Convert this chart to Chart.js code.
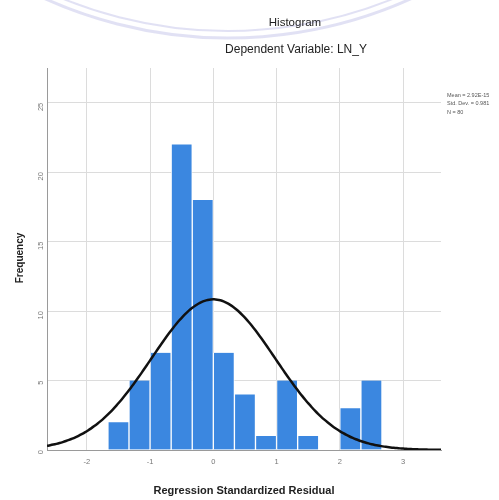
<!DOCTYPE html>
<html>
<head>
<meta charset="utf-8">
<script src="https://cdn.jsdelivr.net/npm/chart.js@4.4.1/dist/chart.umd.min.js"></script>
<style>
html,body{margin:0;padding:0;background:#fff;}
#wrap{width:499px;height:500px;position:relative;}
</style>
</head>
<body>
<div id="wrap"><canvas id="c" width="499" height="500"></canvas></div>
<script>
// Histogram data (bin centres and frequencies)
const binCenters = [-1.5, -1.1667, -0.8333, -0.5, -0.1667, 0.1667, 0.5, 0.8333, 1.1667, 1.5, 1.8333, 2.1667, 2.5];
const frequencies = [2, 5, 7, 22, 18, 7, 4, 1, 5, 1, 0, 3, 5];
const xTicks = [-2, -1, 0, 1, 2, 3];
const yTicks = [0, 5, 10, 15, 20, 25];
// Normal curve parameters (as printed in the legend)
const curveMean = 0;
const curveStdDev = 0.981;
const curveN = 80;
const binWidth = 1 / 3;
const legendLines = ["Mean = 2.92E-15", "Std. Dev. = 0.981", "N = 80"];

const xMin = -2.63, xMax = 3.6, yMax = 27.5;

const curve = [];
for (let i = 0; i <= 125; i++) {
  const x = xMin + (xMax - xMin) * i / 125;
  const z = (x - curveMean) / curveStdDev;
  curve.push({x: x, y: curveN * binWidth * Math.exp(-0.5 * z * z) / (Math.sqrt(2 * Math.PI) * curveStdDev)});
}

const watermarkPlugin = {
  id: 'watermark',
  beforeDraw(chart) {
    const ctx = chart.ctx;
    ctx.save();
    ctx.strokeStyle = 'rgba(200,200,235,0.55)';
    ctx.lineWidth = 3;
    ctx.beginPath(); ctx.arc(228, -407, 445, 0.2 * Math.PI, 0.8 * Math.PI); ctx.stroke();
    ctx.lineWidth = 2;
    ctx.beginPath(); ctx.arc(228, -407, 438, 0.2 * Math.PI, 0.8 * Math.PI); ctx.stroke();
    ctx.restore();
  }
};

const textPlugin = {
  id: 'texts',
  afterDraw(chart) {
    const ctx = chart.ctx;
    ctx.save();
    ctx.fillStyle = '#222';
    ctx.textAlign = 'center';
    ctx.textBaseline = 'middle';
    ctx.font = '11.5px "Liberation Sans", Arial, sans-serif';
    ctx.fillText('Histogram', 295, 23);
    ctx.font = '12px "Liberation Sans", Arial, sans-serif';
    ctx.fillText('Dependent Variable: LN_Y', 296, 50);
    ctx.font = 'bold 11px "Liberation Sans", Arial, sans-serif';
    ctx.fillText('Regression Standardized Residual', 244, 491);
    ctx.save();
    ctx.translate(20, 258);
    ctx.rotate(-Math.PI / 2);
    ctx.font = 'bold 10px "Liberation Sans", Arial, sans-serif';
    ctx.fillText('Frequency', 0, 0);
    ctx.restore();
    ctx.textAlign = 'left';
    ctx.fillStyle = '#555';
    ctx.font = '5.5px "Liberation Sans", Arial, sans-serif';
    legendLines.forEach((t, i) => ctx.fillText(t, 447, 95 + i * 8.5));
    ctx.restore();
  }
};

new Chart(document.getElementById('c'), {
  type: 'bar',
  data: {
    datasets: [
      {
        type: 'line',
        data: curve,
        borderColor: '#111',
        borderWidth: 2.5,
        pointRadius: 0,
        tension: 0.3,
        fill: false
      },
      {
        type: 'bar',
        data: binCenters.map((x, i) => ({x: x, y: frequencies[i]})),
        backgroundColor: '#3b87e0',
        borderColor: 'rgba(255,255,255,0.8)',
        borderWidth: {left: 1, right: 1, top: 0, bottom: 0},
        categoryPercentage: 1,
        barPercentage: 1
      }
    ]
  },
  options: {
    responsive: false,
    animation: false,
    layout: {padding: {top: 68, right: 58, bottom: 30, left: 0}},
    plugins: {legend: {display: false}, tooltip: {enabled: false}, title: {display: false}},
    scales: {
      x: {
        type: 'linear',
        min: xMin, max: xMax,
        offset: false,
        afterBuildTicks: (s) => { s.ticks = xTicks.map(v => ({value: v})); },
        afterFit: (s) => { s.height = 20; },
        grid: {color: '#dcdcdc', offset: false, drawTicks: false},
        border: {color: '#9a9a9a'},
        ticks: {color: '#777', font: {size: 7.5, family: 'Liberation Sans'}, padding: 7, maxRotation: 0}
      },
      y: {
        min: 0, max: yMax,
        afterBuildTicks: (s) => { s.ticks = yTicks.map(v => ({value: v})); },
        afterFit: (s) => { s.width = 47; },
        grid: {color: '#dcdcdc', drawTicks: false},
        border: {color: '#9a9a9a'},
        ticks: {color: '#777', font: {size: 7.5, family: 'Liberation Sans'}, padding: 6, minRotation: 90, maxRotation: 90}
      }
    }
  },
  plugins: [watermarkPlugin, textPlugin]
});
</script>
</body>
</html>
